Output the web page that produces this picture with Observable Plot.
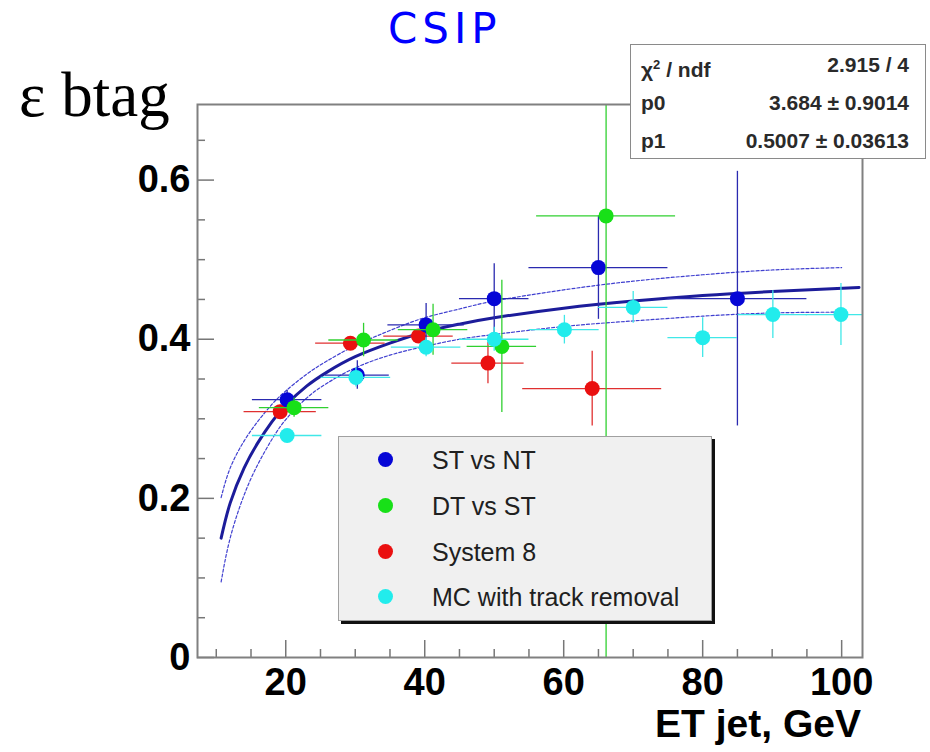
<!DOCTYPE html>
<html>
<head>
<meta charset="utf-8">
<script src="https://cdn.jsdelivr.net/npm/d3@7"></script>
<script src="https://cdn.jsdelivr.net/npm/@observablehq/plot@0.6"></script>
<style>
  html, body { margin: 0; padding: 0; background: #fff; }
  #wrap { position: relative; width: 930px; height: 752px; overflow: hidden; font-family: "Liberation Sans", Arial, sans-serif; }
  #chart { position: absolute; left: 0; top: 0; }
  .title { position: absolute; left: 388px; top: 8px; font-family: "DejaVu Sans", sans-serif; font-size: 42px; letter-spacing: 5px; color: #0000ff; line-height: 1; }
  .ylab { position: absolute; left: 19px; top: 64px; font-family: "Liberation Serif", "Times New Roman", serif; font-size: 63px; color: #000; line-height: 1; }
  .xlab { position: absolute; right: 69px; top: 704px; font-size: 39px; font-weight: bold; color: #000; line-height: 1; }
  .stats { position: absolute; left: 630px; top: 44px; width: 296px; height: 115px; box-sizing: border-box; border: 1.5px solid #8a8a8a; background: #fff; font-size: 21px; font-weight: bold; color: #2a2a2a; }
  .stats .row { position: absolute; left: 10px; right: 16px; height: 24px; line-height: 24px; }
  .stats .row span.r { position: absolute; right: 0; }
  .legend { position: absolute; left: 338px; top: 436px; width: 374px; height: 185px; box-sizing: border-box; border: 1px solid #a0a0a0; background: #f0f0f0; box-shadow: 3px 3px 0 #111; font-size: 25px; color: #202020; }
  .legend .row { position: absolute; left: 0; height: 30px; line-height: 30px; }
  .legend .mk { position: absolute; left: 39px; top: 7px; width: 15px; height: 15px; border-radius: 50%; }
  .legend .tx { position: absolute; left: 93px; white-space: nowrap; }
</style>
</head>
<body>
<div id="wrap">
  <div id="chart"></div>
  <div class="title">CSIP</div>
  <div class="ylab">ε btag</div>
  <div class="xlab" id="xlab"></div>
  <div class="stats" id="stats"></div>
  <div class="legend" id="legend"></div>
</div>
<script>
// ---------- data ----------
const seriesNames = ["ST vs NT", "DT vs ST", "System 8", "MC with track removal"];
const seriesColors = ["#0606d6", "#18e018", "#ea1010", "#22ecec"];
const barColors = ["#2a2ab0", "#30d030", "#e03030", "#40e8e8"];

// ST vs NT (blue)
const stX    = [20.2, 30.3, 40.2, 50.0, 65.0, 85.0];
const stY    = [0.324, 0.355, 0.418, 0.451, 0.490, 0.451];
const stXerr = [5, 4.6, 5.5, 5, 10, 10];
const stYerr = [0.012, 0.018, 0.027, 0.044, 0.065, 0.160];

// DT vs ST (green)
const dtX    = [21.2, 31.2, 41.2, 51.1, 66.1];
const dtY    = [0.314, 0.399, 0.412, 0.391, 0.555];
const dtXerr = [5, 5, 5, 5, 10];
const dtYerr = [0.012, 0.021, 0.032, 0.083, 0.750];

// System 8 (red)
const s8X    = [19.2, 29.3, 39.1, 49.1, 64.1];
const s8Y    = [0.309, 0.395, 0.404, 0.370, 0.338];
const s8Xerr = [5.2, 5, 5, 5.2, 10];
const s8Yerr = [0.008, 0.006, 0.006, 0.026, 0.047];

// MC with track removal (cyan)
const mcX    = [20.2, 30.1, 40.2, 50.0, 60.1, 70.0, 80.0, 90.1, 99.9];
const mcY    = [0.279, 0.352, 0.390, 0.400, 0.412, 0.440, 0.402, 0.431, 0.431];
const mcXerr = [5, 5, 5, 5, 5, 5, 5, 5, 5];
const mcYerr = [0.006, 0.012, 0.012, 0.015, 0.018, 0.020, 0.025, 0.030, 0.039];

// fit curve and its band
const fitX   = [10.7, 12, 14, 16, 18, 20, 23, 26, 30, 35, 40, 45, 50, 60, 70, 80, 90, 102.5];
const fitY   = [0.150, 0.194, 0.238, 0.270, 0.296, 0.317, 0.341, 0.359, 0.378, 0.395, 0.409, 0.419, 0.427, 0.439, 0.448, 0.455, 0.460, 0.465];
const bandX  = [10.7, 12, 14, 16, 18, 20, 23, 26, 30, 35, 40, 45, 50, 60, 70, 80, 90, 100];
const bandHi = [0.201, 0.238, 0.272, 0.297, 0.318, 0.335, 0.356, 0.373, 0.392, 0.411, 0.427, 0.438, 0.448, 0.462, 0.473, 0.481, 0.487, 0.490];
const bandLo = [0.095, 0.150, 0.204, 0.243, 0.274, 0.299, 0.326, 0.345, 0.364, 0.380, 0.391, 0.400, 0.406, 0.416, 0.423, 0.429, 0.433, 0.434];

// stats box
const statLabels = ["χ<sup style='font-size:13px'>2</sup> / ndf", "p0", "p1"];
const statValues = ["2.915 / 4", "3.684 ± 0.9014", "0.5007 ± 0.03613"];

// axes
const xMajor = [20, 40, 60, 80, 100];
const xTickLabels = ["20", "40", "60", "80", "100"];
const xMinor = [10, 15, 25, 30, 35, 45, 50, 55, 65, 70, 75, 85, 90, 95];
const yMajor = [0, 0.2, 0.4, 0.6];
const yTickLabels = ["0", "0.2", "0.4", "0.6"];
const yMinor = [0.05, 0.1, 0.15, 0.25, 0.3, 0.35, 0.45, 0.5, 0.55, 0.65];
const xTitle = "ET jet, GeV";

// ---------- build tables ----------
function table(name, xs, ys, xe, ye) {
  return xs.map((x, i) => ({series: name, x, y: ys[i], xerr: xe[i], yerr: ye[i]}));
}
const drawOrder = [
  table(seriesNames[2], s8X, s8Y, s8Xerr, s8Yerr),
  table(seriesNames[0], stX, stY, stXerr, stYerr),
  table(seriesNames[1], dtX, dtY, dtXerr, dtYerr),
  table(seriesNames[3], mcX, mcY, mcXerr, mcYerr)
];
const fit = fitX.map((x, i) => ({x, y: fitY[i]}));
const band = bandX.map((x, i) => ({x, hi: bandHi[i], lo: bandLo[i]}));
const barColor = new Map(seriesNames.map((n, i) => [n, barColors[i]]));

const W = 930, H = 752;
const mL = 197, mR = 68, mT = 104, mB = 95;
const innerW = W - mL - mR, innerH = H - mT - mB;

const marks = [];
marks.push(Plot.line(band, {x: "x", y: "hi", stroke: "#4040d0", strokeWidth: 1.2, strokeDasharray: "3,2", curve: "natural"}));
marks.push(Plot.line(band, {x: "x", y: "lo", stroke: "#4040d0", strokeWidth: 1.2, strokeDasharray: "3,2", curve: "natural"}));
marks.push(Plot.line(fit, {x: "x", y: "y", stroke: "#1c1c9a", strokeWidth: 3, curve: "natural"}));
for (const data of drawOrder) {
  marks.push(Plot.ruleY(data, {y: "y", x1: d => d.x - d.xerr, x2: d => d.x + d.xerr, stroke: d => barColor.get(d.series), strokeWidth: 1.3, clip: true}));
  marks.push(Plot.ruleX(data, {x: "x", y1: d => d.y - d.yerr, y2: d => d.y + d.yerr, stroke: d => barColor.get(d.series), strokeWidth: 1.3, clip: true}));
  marks.push(Plot.dot(data, {x: "x", y: "y", r: 7.5, fill: "series", stroke: "none"}));
}
// ticks inside the frame (ROOT style)
marks.push(Plot.tickX(xMajor, {x: d => d, insetTop: innerH - 17, stroke: "#777", strokeWidth: 1.5}));
marks.push(Plot.tickX(xMinor, {x: d => d, insetTop: innerH - 8, stroke: "#777", strokeWidth: 1.5}));
marks.push(Plot.tickY(yMajor, {y: d => d, insetRight: innerW - 17, stroke: "#777", strokeWidth: 1.5}));
marks.push(Plot.tickY(yMinor, {y: d => d, insetRight: innerW - 8, stroke: "#777", strokeWidth: 1.5}));
marks.push(Plot.frame({stroke: "#808080", strokeWidth: 2}));
// tick labels
marks.push(Plot.text(xMajor, {x: d => d, text: (d, i) => xTickLabels[i], frameAnchor: "bottom", lineAnchor: "top", dy: 11, fontSize: 38, fontWeight: "bold", fill: "#000"}));
marks.push(Plot.text(yMajor, {y: d => d, text: (d, i) => yTickLabels[i], frameAnchor: "left", textAnchor: "end", dx: -7, fontSize: 38, fontWeight: "bold", fill: "#000"}));

const chart = Plot.plot({
  width: W, height: H,
  marginLeft: mL, marginRight: mR, marginTop: mT, marginBottom: mB,
  style: {fontFamily: "'Liberation Sans', Arial, sans-serif", background: "transparent", overflow: "visible"},
  x: {domain: [7.3, 103], axis: null},
  y: {domain: [0, 0.695], axis: null},
  color: {domain: seriesNames, range: seriesColors},
  marks
});
document.getElementById("chart").appendChild(chart);

// overlays
document.getElementById("xlab").textContent = xTitle;
const stats = document.getElementById("stats");
const rowTops = [8, 46, 84];
statLabels.forEach((lab, i) => {
  const r = document.createElement("div");
  r.className = "row";
  r.style.top = rowTops[i] + "px";
  r.innerHTML = `<span>${lab}</span><span class="r">${statValues[i]}</span>`;
  stats.appendChild(r);
});
const legend = document.getElementById("legend");
const legTops = [8, 54, 100, 145];
seriesNames.forEach((name, i) => {
  const r = document.createElement("div");
  r.className = "row";
  r.style.top = legTops[i] + "px";
  r.innerHTML = `<span class="mk" style="background:${seriesColors[i]}"></span><span class="tx">${name}</span>`;
  legend.appendChild(r);
});
</script>
</body>
</html>
